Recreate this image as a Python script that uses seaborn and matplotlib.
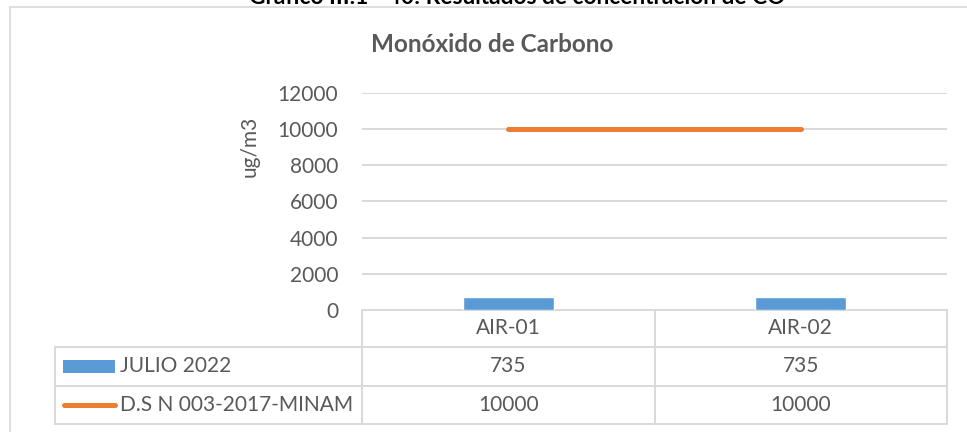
import numpy as np
import matplotlib
matplotlib.use("Agg")
import matplotlib.pyplot as plt
import seaborn as sns
from matplotlib.patches import Rectangle

# datos del gráfico
estaciones = ["AIR-01", "AIR-02"]
julio_2022 = [735, 735]
norma_ds = [10000, 10000]
series = ["JULIO 2022", "D.S N 003-2017-MINAM"]
yticks = [0, 2000, 4000, 6000, 8000, 10000, 12000]

azul = "#5B9BD5"
naranja = "#ED7D31"
gris = "#D9D9D9"
texto = "#595959"
fs = 15

sns.set_style("white")
plt.rcParams["font.family"] = ["Lato", "DejaVu Sans"]

W, H = 967, 432
fig = plt.figure(figsize=(W / 100, H / 100), dpi=100)

# area del grafico (pixeles)
px_l, px_r, px_t, px_b = 362, 947, 92.7, 310
ax = fig.add_axes([px_l / W, 1 - px_b / H, (px_r - px_l) / W, (px_b - px_t) / H])
sns.barplot(x=estaciones, y=julio_2022, color=azul, width=0.31, saturation=1, ax=ax, zorder=3)
ax.plot(np.arange(len(estaciones)), norma_ds, color=naranja, lw=3.6,
        solid_capstyle="round", zorder=4)
ax.set_xlim(-0.5, len(estaciones) - 0.5)
ax.set_ylim(yticks[0], yticks[-1])
ax.set_yticks(yticks)
ax.set_yticklabels([str(t) for t in yticks], fontsize=fs, color=texto)
ax.tick_params(axis="y", length=0, pad=17)
ax.set_xticks([])
ax.set_xlabel("")
ax.set_ylabel("")
ax.yaxis.grid(True, color=gris, lw=1.4, zorder=0)
for s in ax.spines.values():
    s.set_visible(False)
ax.set_facecolor("none")

# capa para bordes, tabla y textos
ov = fig.add_axes([0, 0, 1, 1], zorder=-1)
ov.set_xlim(0, W)
ov.set_ylim(H, 0)
ov.axis("off")

# borde del grafico
ov.plot([10, 10], [7, H], color=gris, lw=1.2)
ov.plot([10, W], [7, 7], color=gris, lw=1.2)

fig.text(517 / W, 1 - 3.5 / H, "Gráfico III.1 - 40: Resultados de concentración de CO",
         ha="center", va="baseline", fontsize=16.4, fontweight="bold", color="black")
ov.text(492, 45, "Monóxido de Carbono", ha="center", va="center",
        fontsize=17.5, fontweight="bold", color=texto)
ov.text(250, 146, "ug/m3", rotation=90, ha="center", va="center", fontsize=fs, color=texto)

# tabla de datos
filas = [310, 347, 386, 424]
leg_l = 55
n = len(estaciones)
col_w = (px_r - px_l) / n
ov.plot([px_l, px_r], [filas[0], filas[0]], color=gris, lw=1.4)
for y in filas[1:]:
    ov.plot([leg_l, px_r], [y, y], color=gris, lw=1.4)
for i in range(n + 1):
    x = px_l + i * col_w
    ov.plot([x, x], [filas[0], filas[-1]], color=gris, lw=1.4)
ov.plot([leg_l, leg_l], [filas[1], filas[-1]], color=gris, lw=1.4)

for i, est in enumerate(estaciones):
    xc = px_l + (i + 0.5) * col_w
    ov.text(xc, (filas[0] + filas[1]) / 2, est, ha="center", va="center", fontsize=fs, color=texto)
    ov.text(xc, (filas[1] + filas[2]) / 2, str(julio_2022[i]), ha="center", va="center",
            fontsize=fs, color=texto)
    ov.text(xc, (filas[2] + filas[3]) / 2, str(norma_ds[i]), ha="center", va="center",
            fontsize=fs, color=texto)

y1 = (filas[1] + filas[2]) / 2
y2 = (filas[2] + filas[3]) / 2
ov.add_patch(Rectangle((63, y1 - 6.8), 52, 13.6, color=azul, lw=0))
ov.plot([64, 115], [y2, y2], color=naranja, lw=3.6, solid_capstyle="round")
ov.text(120, y1, series[0], ha="left", va="center", fontsize=fs, color=texto)
ov.text(120, y2, series[1], ha="left", va="center", fontsize=fs, color=texto)

fig.savefig("out.png", dpi=100)
